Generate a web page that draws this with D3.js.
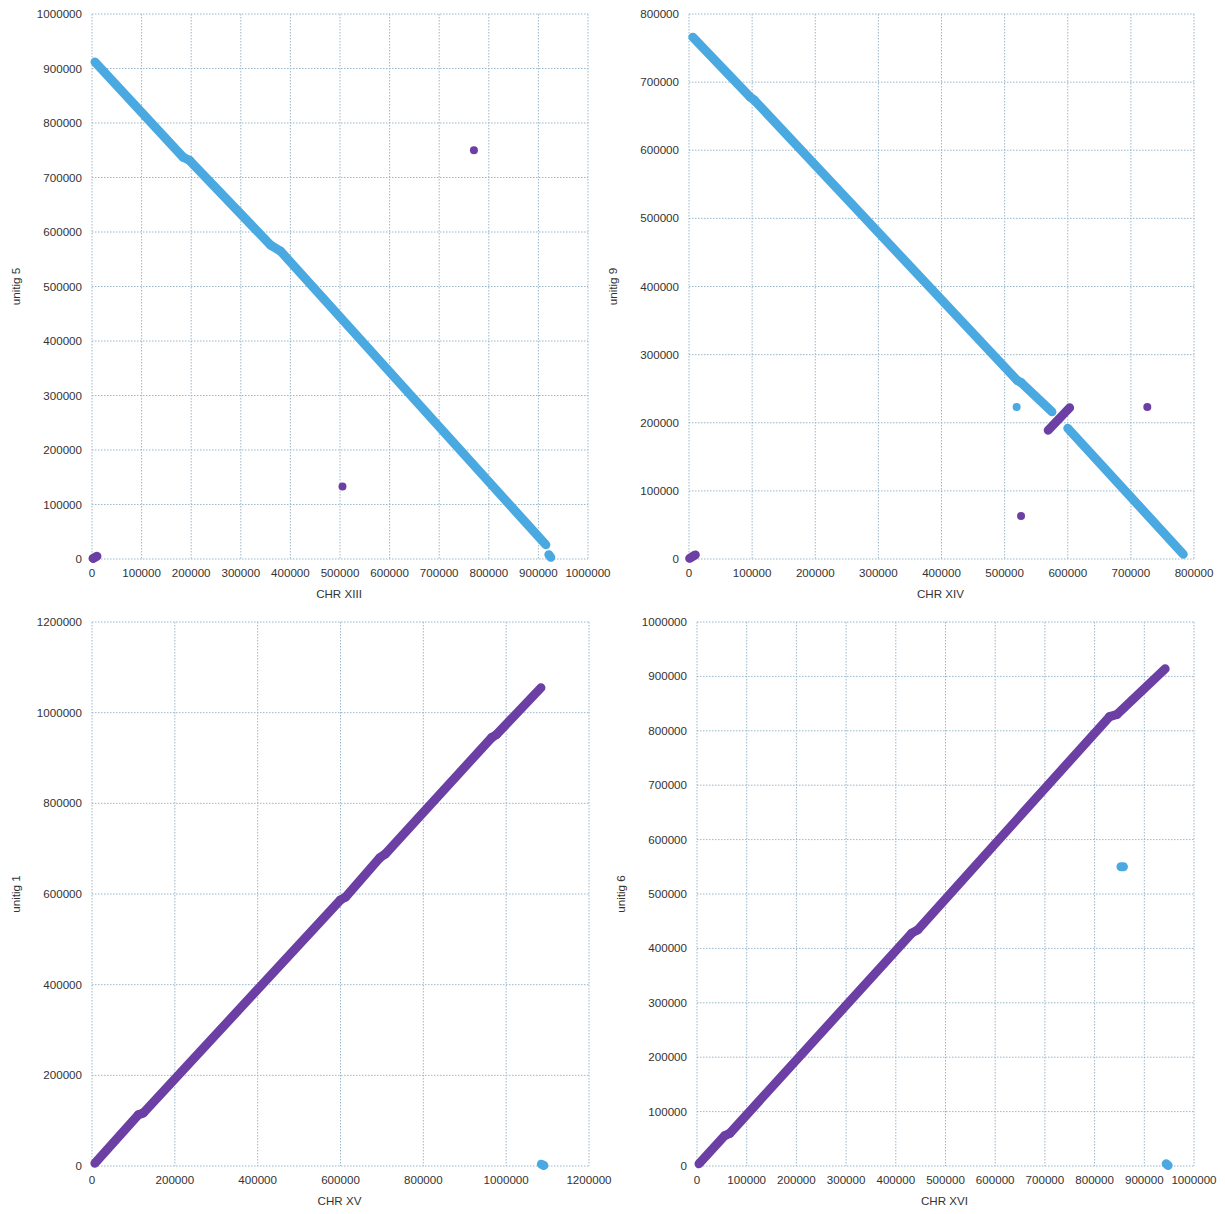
<!DOCTYPE html>
<html><head><meta charset="utf-8">
<script src="https://cdn.jsdelivr.net/npm/d3@7"></script>
<style>
body{margin:0;background:#fff;}
text{font-family:"Liberation Sans",Arial,sans-serif;fill:#333;}
</style></head>
<body><svg id="c" width="1225" height="1214"></svg>
<script>
// Panel axis definitions
const panelXLabels = ["CHR XIII", "CHR XIV", "CHR XV", "CHR XVI"];
const panelYLabels = ["unitig 5", "unitig 9", "unitig 1", "unitig 6"];
const panelXMax = [1000000, 800000, 1200000, 1000000];
const panelYMax = [1000000, 800000, 1200000, 1000000];
const panelXStep = [100000, 100000, 200000, 100000];
const panelYStep = [100000, 100000, 200000, 100000];

// Alignment segments [x1, y1, x2, y2] — blue (reverse) and purple (forward)
const blue13 = [
  [6000, 912000, 184000, 737000],
  [184000, 737000, 197000, 731000],
  [197000, 731000, 360000, 576000],
  [360000, 576000, 380000, 565000],
  [380000, 565000, 915000, 26000],
  [921000, 8000, 925000, 3000]
];
const purple13 = [
  [2000, 1000, 10000, 5000],
  [770000, 750000, 770000, 750000],
  [505000, 133000, 505000, 133000]
];
const blue14 = [
  [6000, 766000, 97000, 678000],
  [97000, 678000, 103000, 674000],
  [103000, 674000, 520000, 262000],
  [520000, 262000, 526000, 259000],
  [526000, 259000, 575000, 216000],
  [600000, 192000, 783000, 7000],
  [519000, 223000, 519000, 223000]
];
const purple14 = [
  [1000, 1000, 10000, 6000],
  [569000, 189000, 603000, 222000],
  [726000, 223000, 726000, 223000],
  [526000, 63000, 526000, 63000]
];
const blue15 = [
  [1085000, 4000, 1091000, 1000]
];
const purple15 = [
  [7000, 6000, 112000, 113000],
  [112000, 113000, 124000, 117000],
  [124000, 117000, 600000, 587000],
  [600000, 587000, 612000, 593000],
  [612000, 593000, 695000, 680000],
  [695000, 680000, 708000, 688000],
  [708000, 688000, 965000, 945000],
  [965000, 945000, 977000, 952000],
  [977000, 952000, 1084000, 1055000]
];
const blue16 = [
  [853000, 550000, 858000, 550000],
  [944000, 4000, 948000, 1000]
];
const purple16 = [
  [4000, 4000, 56000, 56000],
  [56000, 56000, 66000, 60000],
  [66000, 60000, 432000, 428000],
  [432000, 428000, 444000, 434000],
  [444000, 434000, 830000, 826000],
  [830000, 826000, 845000, 830000],
  [845000, 830000, 942000, 914000]
];
const panelBlue = [blue13, blue14, blue15, blue16];
const panelPurple = [purple13, purple14, purple15, purple16];

const boxes = [
  {l: 92, r: 588, t: 14, b: 559},
  {l: 689, r: 1194, t: 14, b: 559},
  {l: 92, r: 589, t: 622, b: 1166},
  {l: 697, r: 1194, t: 622, b: 1166}
];
const BLUE = "#4aa9e1", PURPLE = "#6b3fa3", GRID = "#9bb7cb";

const svg = d3.select("#c");
boxes.forEach((bx, i) => {
  const x = d3.scaleLinear().domain([0, panelXMax[i]]).range([bx.l, bx.r]);
  const y = d3.scaleLinear().domain([0, panelYMax[i]]).range([bx.b, bx.t]);
  const g = svg.append("g");
  const xt = d3.range(0, panelXMax[i] + 1, panelXStep[i]);
  const yt = d3.range(0, panelYMax[i] + 1, panelYStep[i]);
  // grid (including frame)
  g.selectAll(".vg").data(xt).join("line")
    .attr("x1", d => x(d)).attr("x2", d => x(d)).attr("y1", bx.t).attr("y2", bx.b)
    .attr("stroke", GRID).attr("stroke-width", 1).attr("stroke-dasharray", "1.5,1.5");
  g.selectAll(".hg").data(yt).join("line")
    .attr("y1", d => y(d)).attr("y2", d => y(d)).attr("x1", bx.l).attr("x2", bx.r)
    .attr("stroke", GRID).attr("stroke-width", 1).attr("stroke-dasharray", "1.5,1.5");
  // tick labels
  g.selectAll(".xl").data(xt).join("text")
    .attr("x", d => x(d)).attr("y", bx.b + 18).attr("text-anchor", "middle")
    .attr("font-size", 11.6).text(d => d);
  g.selectAll(".yl").data(yt).join("text")
    .attr("x", bx.l - 10).attr("y", d => y(d) + 4).attr("text-anchor", "end")
    .attr("font-size", 11.6).text(d => d);
  // axis titles
  g.append("text").attr("x", (bx.l + bx.r) / 2 - 1).attr("y", bx.b + 39)
    .attr("text-anchor", "middle").attr("font-size", 11.6).text(panelXLabels[i]);
  g.append("text").attr("transform", `translate(${bx.l - 72},${(bx.t + bx.b) / 2}) rotate(-90)`)
    .attr("text-anchor", "middle").attr("font-size", 11.6).text(panelYLabels[i]);
  // segments
  const draw = (arr, col) => {
    g.append("g").selectAll("line").data(arr).join("line")
      .attr("x1", d => x(d[0])).attr("y1", d => y(d[1]))
      .attr("x2", d => x(d[2])).attr("y2", d => y(d[3]))
      .attr("stroke", col).attr("stroke-linecap", "round")
      .attr("stroke-width", d => (d[0] === d[2] && d[1] === d[3]) ? 8 : 9);
  };
  draw(panelBlue[i], BLUE);
  draw(panelPurple[i], PURPLE);
});
</script></body></html>
